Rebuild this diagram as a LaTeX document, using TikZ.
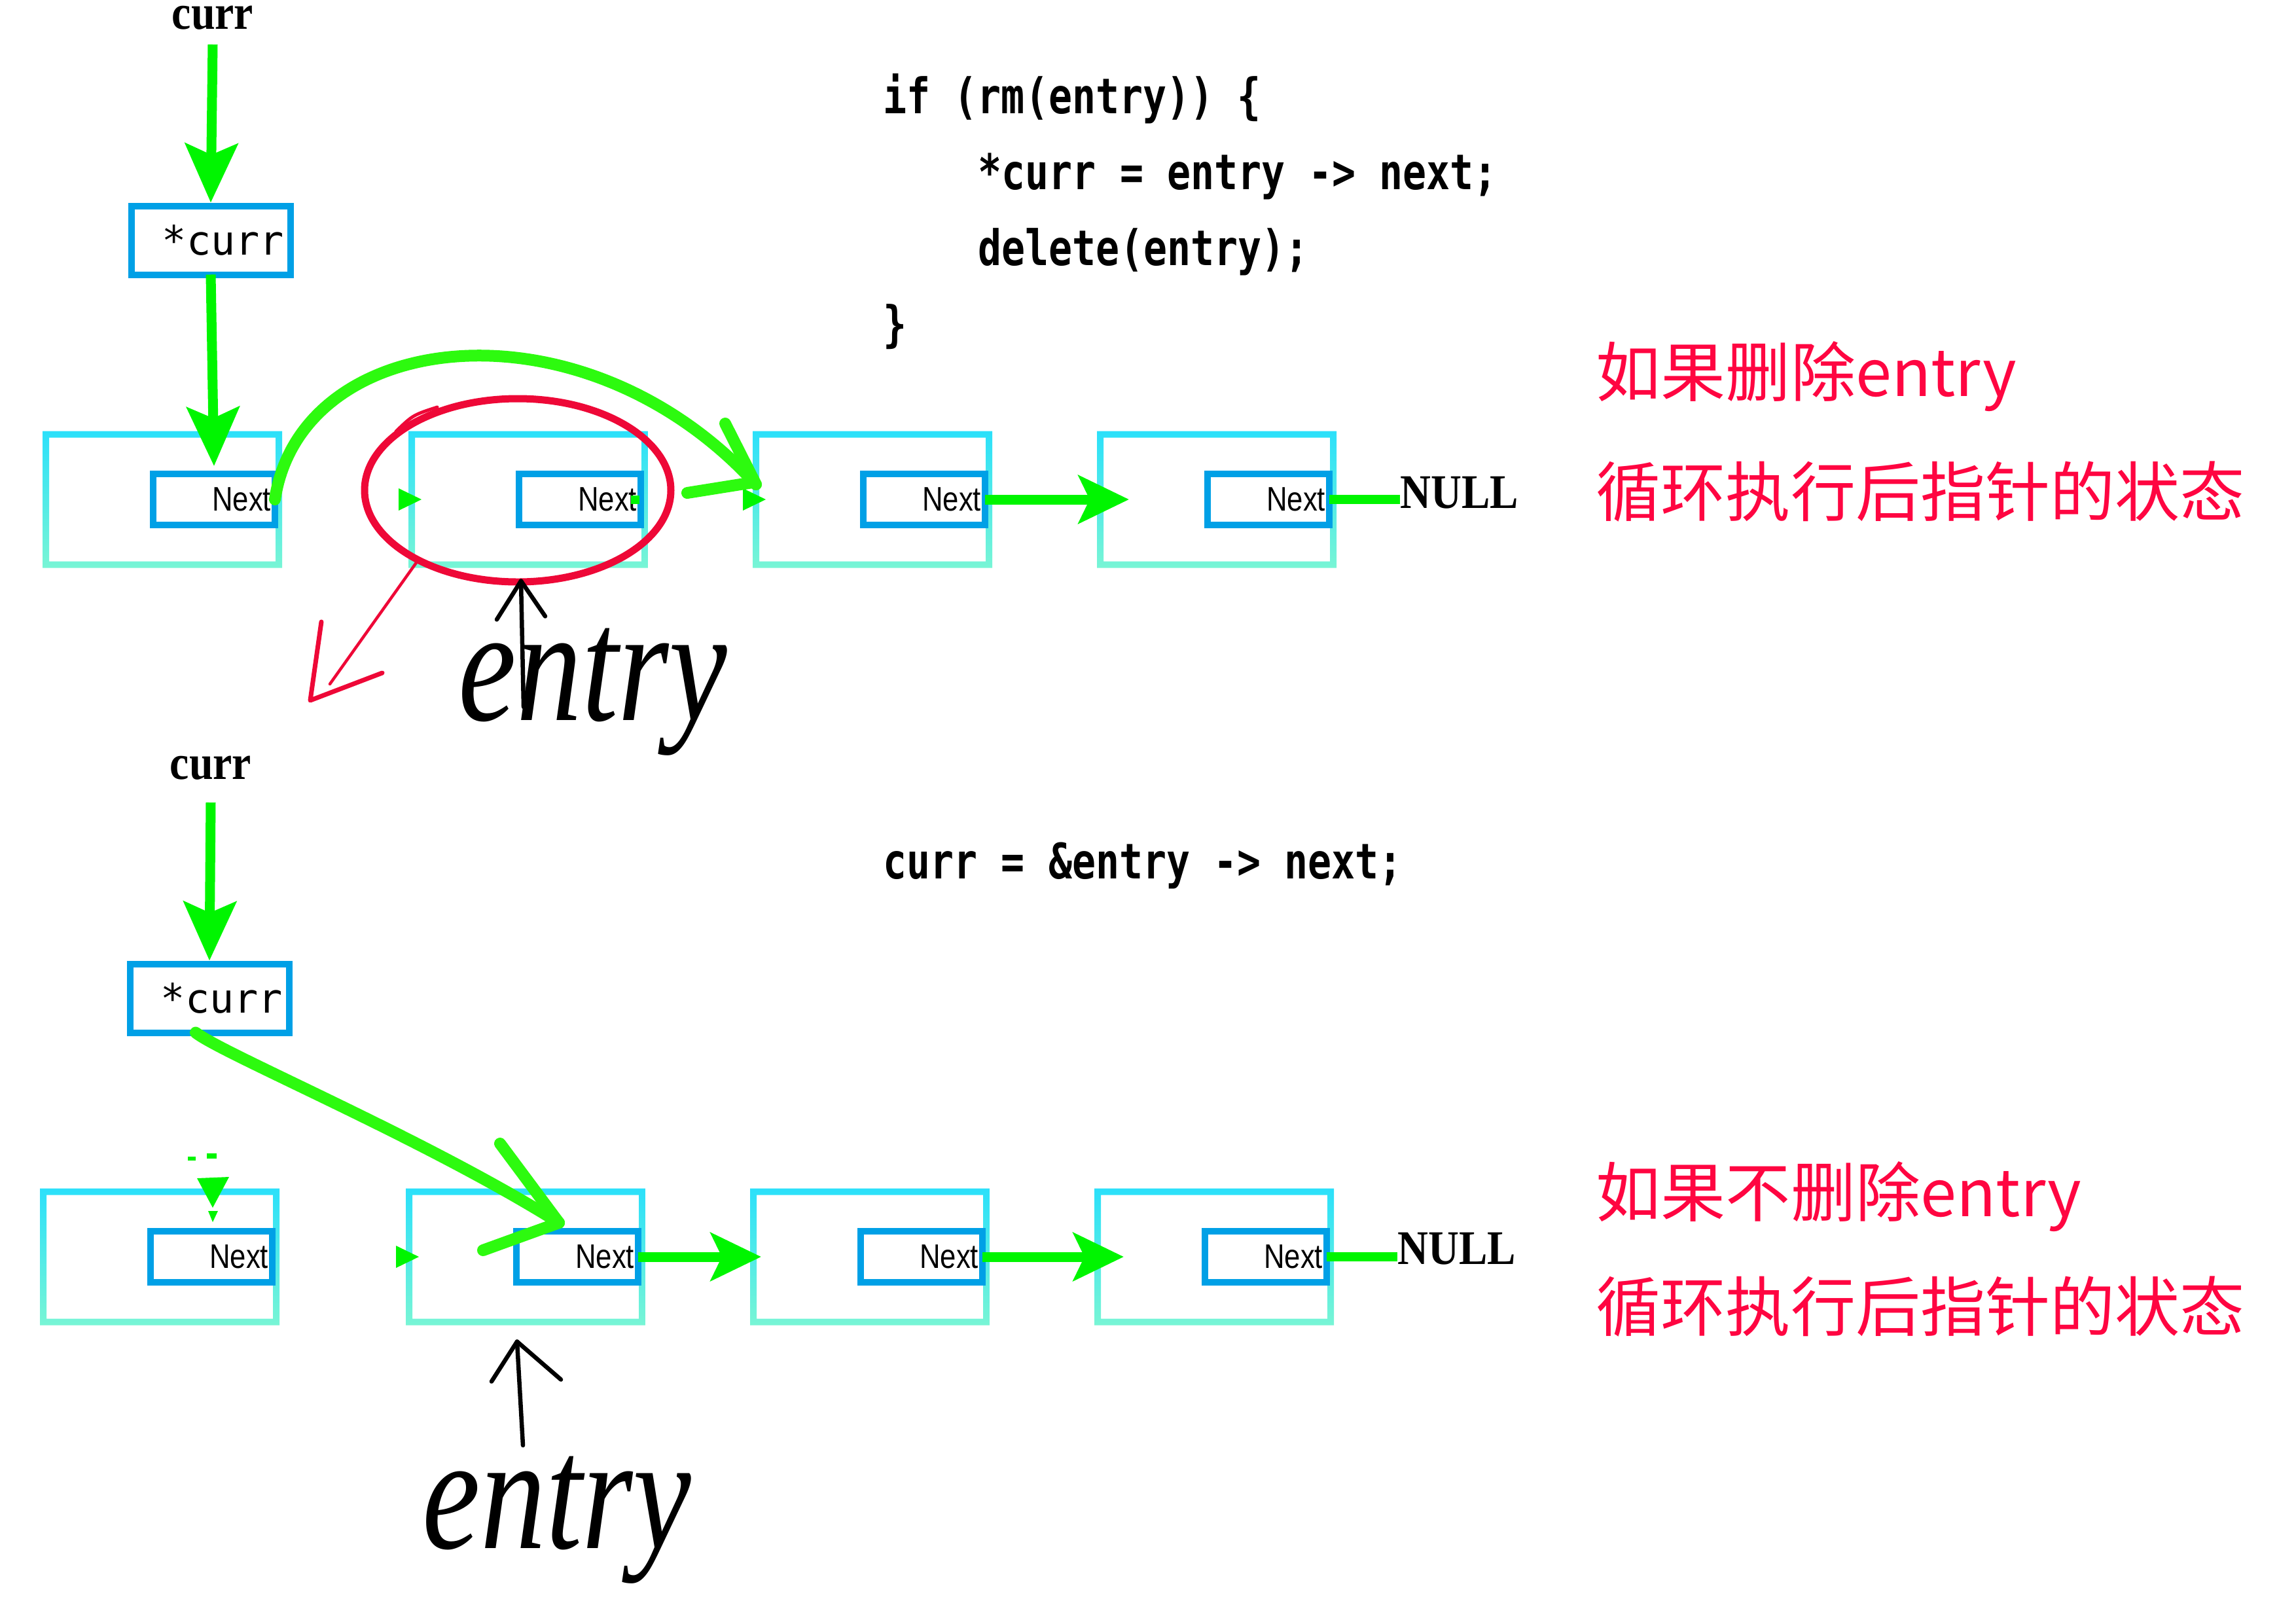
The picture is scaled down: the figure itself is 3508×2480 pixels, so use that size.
\documentclass[tikz,border=0pt]{standalone}
\usepackage{fontspec}
\usepackage{tikz}
\usetikzlibrary{arrows.meta,positioning,shapes.geometric}

\newfontfamily\codefont[FakeStretch=0.8]{DejaVu Sans Mono}
\newfontfamily\ptrfont{DejaVu Sans Mono}
\newfontfamily\nextfont[FakeStretch=0.84]{Liberation Sans}
\newfontfamily\lblfont[FakeStretch=0.88]{Liberation Serif}
\newfontfamily\handfont[FakeStretch=0.8]{Liberation Serif}
\newfontfamily\cjk{Noto Sans CJK SC}

\definecolor{cellTop}{RGB}{43,224,250}
\definecolor{cellMid}{RGB}{100,149,220}
\definecolor{cellBot}{RGB}{120,245,213}
\definecolor{nextBlue}{RGB}{0,160,230}
\definecolor{linkGreen}{RGB}{0,245,0}
\definecolor{sweepGreen}{RGB}{45,250,15}
\definecolor{markRed}{RGB}{238,8,55}
\definecolor{noteRed}{RGB}{255,5,65}

% gradient frame of a list cell
\newcommand\cellframe[1]{%
  \shade[top color=cellTop, middle color=cellMid, bottom color=cellBot, even odd rule]
    ([shift={(-5,-5)}]#1.north west) rectangle ([shift={(5,5)}]#1.south east)
    ([shift={(5,5)}]#1.north west) rectangle ([shift={(-5,-5)}]#1.south east);}
% left-over arrow tip at a cell
\newcommand\tipmark[1]{%
  \fill[linkGreen] ([shift={(-20,-17)}]#1.west) -- ([shift={(15,0)}]#1.west)
    -- ([shift={(-20,17)}]#1.west) -- cycle;}

\begin{document}
\begin{tikzpicture}[
  x=0.1mm, y=-0.1mm,
  node distance=17mm,
  cell/.style={rectangle, minimum width=35.6mm, minimum height=19.9mm,
    inner sep=0pt, outer sep=0pt},
  nextbox/.style={rectangle, draw=nextBlue, line width=1mm,
    minimum width=18.6mm, minimum height=7.8mm, inner sep=0pt, outer sep=0pt,
    text width=17.4mm, align=right,
    font=\nextfont\fontsize{14.8}{14.8}\selectfont},
  ptrbox/.style={rectangle, draw=nextBlue, line width=1mm,
    minimum width=24.3mm, minimum height=10.5mm, inner sep=0pt, outer sep=0pt,
    text width=22.4mm, align=right,
    font=\ptrfont\fontsize{17.6}{17.6}\selectfont},
  codeline/.style={anchor=base west, inner sep=0pt,
    font=\codefont\bfseries\fontsize{21.3}{21.3}\selectfont},
  note/.style={anchor=base west, inner sep=0pt, text=noteRed,
    font=\cjk\fontsize{28.2}{28.2}\selectfont},
  lbl/.style={inner sep=0pt, font=\lblfont\bfseries\fontsize{21.3}{21.3}\selectfont},
  nullmark/.style={anchor=base west, inner sep=0pt,
    font=\lblfont\bfseries\fontsize{21}{21}\selectfont},
  hand/.style={anchor=base west, inner sep=0pt,
    font=\handfont\itshape\fontsize{71}{71}\selectfont},
  ring/.style={ellipse, draw=markRed, line width=1.1mm, minimum width=46.8mm,
    minimum height=28mm, inner sep=0pt, outer sep=0pt},
  link/.style={draw=linkGreen, line width=1.5mm,
    -{Stealth[length=7.7mm, width=7.3mm, inset=1.7mm]}},
  ptr/.style={draw=linkGreen, line width=1.5mm,
    -{Stealth[length=9mm, width=8mm, inset=1.7mm]}},
  stub/.style={draw=linkGreen, line width=1.4mm},
  sweep/.style={draw=sweepGreen, line width=1.8mm, line cap=round, line join=round},
  redpen/.style={draw=markRed, line width=0.7mm, line cap=round, line join=round},
  pen/.style={draw=black, line width=0.65mm, line cap=round, line join=round}
]
\useasboundingbox (0,0) rectangle (3508,2480);

% Top row
\node[cell] (t1) at (248,763) {};
\node[cell] (t2) [right=20.3mm of t1] {};
\node[cell] (t3) [right=of t2] {};
\node[cell] (t4) [right=of t3] {};
% Bottom row
\node[cell] (b1) at (244,1920) {};
\node[cell] (b2) [right=20.3mm of b1] {};
\node[cell] (b3) [right=of b2] {};
\node[cell] (b4) [right=of b3] {};
\foreach \c in {t1,t2,t3,t4,b1,b2,b3,b4} {\cellframe{\c}}
\foreach \c in {t1,t2,t3,t4,b1,b2,b3,b4}
  \node[nextbox, anchor=east] (n\c) at ([xshift=-0.6mm]\c.east) {Next};

% Pointers
\node[lbl, anchor=base] (tlbl) at (325,44) {curr};
\node[ptrbox] (tptr) at (322,367) {*curr};
\node[lbl, anchor=base] (blbl) at (322,1190) {curr};
\node[ptrbox] (bptr) at (320,1525) {*curr};
\node[nullmark] (tnull) at (2139,776) {NULL};
\node[nullmark] (bnull) at (2135,1931) {NULL};

% Code
\node[codeline] (ifrm)   at (1349,173) {if (rm(entry)) \{};
\node[codeline] (assign) at (1494,289) {*curr = entry -> next;};
\node[codeline] (free)   at (1494,405) {delete(entry);};
\node[codeline] (close)  at (1349,521) {\}};
\node[codeline] (step)   at (1349,1342) {curr = \&entry -> next;};

% Notes
\node[note] (rmA)   at (2438,605)  {如果删除entry};
\node[note] (rmB)   at (2438,788)  {循环执行后指针的状态};
\node[note] (keepA) at (2438,1858) {如果不删除entry};
\node[note] (keepB) at (2438,2033) {循环执行后指针的状态};

% Handwritten labels
\node[hand] (tentry) at (700,1100) {entry};
\node[hand] (bentry) at (645,2365) {entry};

% Old arrow tips
\tipmark{t2}
\tipmark{t3}
\tipmark{b2}
\draw[stub, line width=1.3mm] ([xshift=-1.5mm]nt2.east) -- ([xshift=-0.2mm]nt2.east);
\fill[linkGreen] ([shift={(-22,-81)}]nb1.north) -- ([shift={(27,-83)}]nb1.north)
  -- ([shift={(2,-36)}]nb1.north) -- cycle;
\fill[linkGreen] ([shift={(-36,-114)}]nb1.north) rectangle ([shift={(-24,-108)}]nb1.north);
\fill[linkGreen] ([shift={(-7,-119)}]nb1.north) rectangle ([shift={(8,-111)}]nb1.north);
\fill[linkGreen] ([shift={(-5,-31)}]nb1.north) -- ([shift={(10,-31)}]nb1.north)
  -- ([shift={(2,-14)}]nb1.north) -- cycle;

% Straight links
\draw[ptr] ([yshift=-2.4mm]tlbl.base) -- ([yshift=0.5mm]tptr.north);
\draw[ptr] (tptr.south) -- ([yshift=1.2mm]nt1.north);
\draw[ptr] ([yshift=-3.6mm]blbl.base) -- ([yshift=0.5mm]bptr.north);
\draw[link] (nt3.east) -- ([xshift=4.4mm]t4.west);
\draw[stub] (nt4.east) -- (nt4.east -| tnull.west);
\draw[link] (nb2.east) -- ([xshift=1.2mm]b3.west);
\draw[link] (nb3.east) -- ([xshift=4mm]b4.west);
\draw[stub] (nb4.east) -- (nb4.east -| bnull.west);

% Red marks
\node[ring] (gone) at ([shift={(-16,-14)}]t2.center) {};
\draw[redpen, line width=0.5mm] ([shift={(-123,-127)}]gone.center)
  .. controls ([shift={(-160,-115)}]gone.center) .. ([shift={(-186,-90)}]gone.center);
\coordinate (redtip) at (474,1070);
\draw[redpen, line width=0.45mm] (gone.215) -- ([shift={(30,-25)}]redtip);
\draw[redpen] ([shift={(17,-120)}]redtip) -- (redtip) -- ([shift={(110,-42)}]redtip);

% Hand arrows
\coordinate (ttip) at ([shift={(-11,25)}]t2.south);
\coordinate (tstem) at (800,1080);
\draw[pen] (tstem) -- (ttip);
\draw[pen] ([shift={(-37,59)}]ttip) -- (ttip) -- ([shift={(37,54)}]ttip);
\coordinate (btip) at ([shift={(-13,30)}]b2.south);
\coordinate (bstem) at (799,2208);
\draw[pen] (bstem) -- (btip);
\draw[pen] ([shift={(-39,61)}]btip) -- (btip) -- ([shift={(67,58)}]btip);

% Rerouted pointers
\coordinate (tend) at ([yshift=2.3mm]t3.west);
\draw[sweep] (nt1.east) .. controls (460,500) and (890,450) .. (tend);
\draw[sweep] (tend) -- ++(-47,-93);
\draw[sweep] ([shift={(-5,-3)}]tend) -- ++(-100,16);
\coordinate (bend) at ([shift={(65,-13)}]nb2.north west);
\draw[sweep] ([xshift=-2.1mm]bptr.south) .. controls (340,1610) and (650,1740) .. (bend);
\draw[sweep] (bend) -- ++(-90,-121);
\draw[sweep] (bend) -- ++(-116,42);
\end{tikzpicture}
\end{document}
